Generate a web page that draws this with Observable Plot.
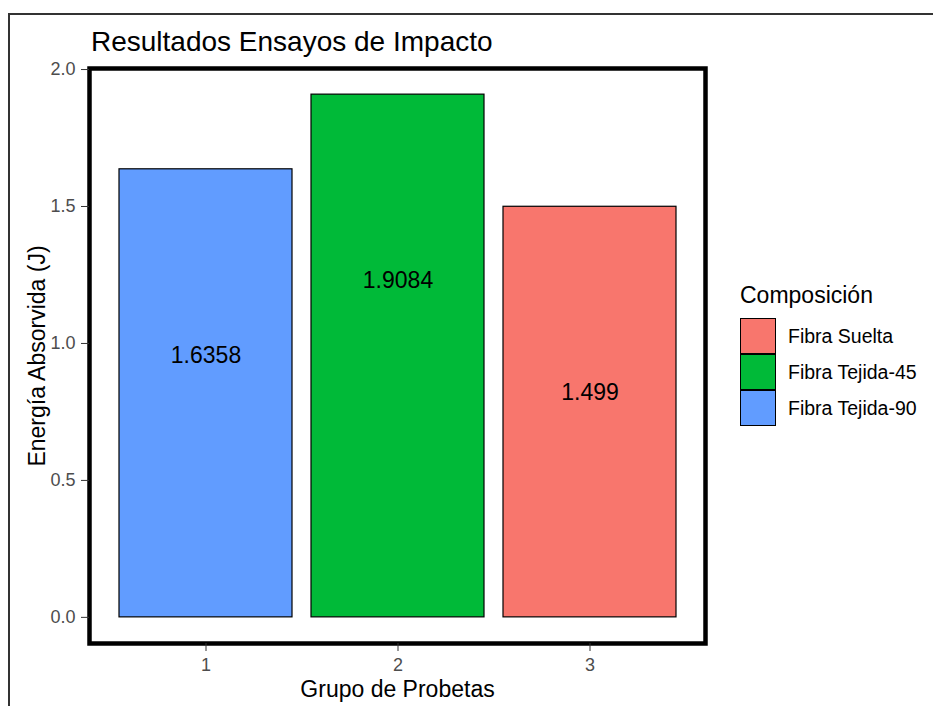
<!DOCTYPE html>
<html><head><meta charset="utf-8">
<script src="https://cdn.jsdelivr.net/npm/d3@7"></script>
<script src="https://cdn.jsdelivr.net/npm/@observablehq/plot@0.6"></script>
<style>
body{margin:0;background:#fff;font-family:"Liberation Sans",Arial,sans-serif;}
#wrap{position:relative;width:933px;height:706px;overflow:hidden;}
#border{position:absolute;left:8px;top:13px;width:940px;height:700px;border-left:2px solid #333;border-top:2px solid #333;}
#title{position:absolute;left:91px;top:26px;font-size:28px;line-height:32px;color:#000;}
#legend{position:absolute;left:740px;top:281px;}
#legend .lt{font-size:23px;line-height:28px;color:#000;margin-bottom:9px;}
#legend .row{display:flex;align-items:center;height:36px;}
#legend .sw{width:36px;height:36px;border:1.5px solid #000;box-sizing:border-box;}
#legend .lb{font-size:19.5px;margin-left:12px;color:#000;}
#chart{position:absolute;left:0;top:0;}
</style></head>
<body><div id="wrap"><div id="border"></div><div id="chart"></div><div id="title">Resultados Ensayos de Impacto</div><div id="legend"></div></div>
<script>
const grupos = ["1", "2", "3"];
const energia = [1.6358, 1.9084, 1.499];
const composicion = ["Fibra Tejida-90", "Fibra Tejida-45", "Fibra Suelta"];
const legendOrder = ["Fibra Suelta", "Fibra Tejida-45", "Fibra Tejida-90"];
const legendColors = ["#F8766D", "#00BA38", "#619CFF"];
const yTicks = [0, 0.5, 1.0, 1.5, 2.0];
const etiquetas = ["1.6358", "1.9084", "1.499"];

const data = grupos.map((g, i) => ({grupo: g, valor: energia[i], comp: composicion[i], etiqueta: etiquetas[i]}));

const plot = Plot.plot({
  width: 933, height: 706,
  marginLeft: 89, marginRight: 228, marginTop: 68, marginBottom: 63,
  style: {fontFamily: "Liberation Sans, Arial, sans-serif", background: "transparent"},
  x: {type: "band", domain: grupos, paddingInner: 0.1, paddingOuter: 0.15},
  y: {domain: [-0.0954, 2.0038]},
  color: {domain: legendOrder, range: legendColors},
  marks: [
    Plot.barY(data, {x: "grupo", y: "valor", fill: "comp", stroke: "#000", strokeWidth: 1.2}),
    Plot.text(data, {x: "grupo", y: "valor", text: "etiqueta", dy: 186, fontSize: 23, fill: "#000"}),
    Plot.frame({stroke: "#000", strokeWidth: 4.5}),
    Plot.axisY({ticks: yTicks, tickFormat: d => d.toFixed(1), tickSize: 8, tickPadding: 6, fontSize: 18, color: "#4D4D4D", stroke: "#333", label: null}),
    Plot.axisX({tickSize: 8, tickPadding: 7, fontSize: 18, color: "#4D4D4D", stroke: "#333", label: null}),
    Plot.text(["Energía Absorvida (J)"], {frameAnchor: "left", textAnchor: "middle", dx: -52, rotate: -90, fontSize: 23, fill: "#000"}),
    Plot.text(["Grupo de Probetas"], {frameAnchor: "bottom", dy: 53, fontSize: 23, fill: "#000"})
  ]
});
document.getElementById("chart").appendChild(plot);

const lg = document.getElementById("legend");
lg.innerHTML = '<div class="lt">Composición</div>' + legendOrder.map((n, i) =>
  `<div class="row"><div class="sw" style="background:${legendColors[i]}"></div><div class="lb">${n}</div></div>`).join("");
</script></body></html>
